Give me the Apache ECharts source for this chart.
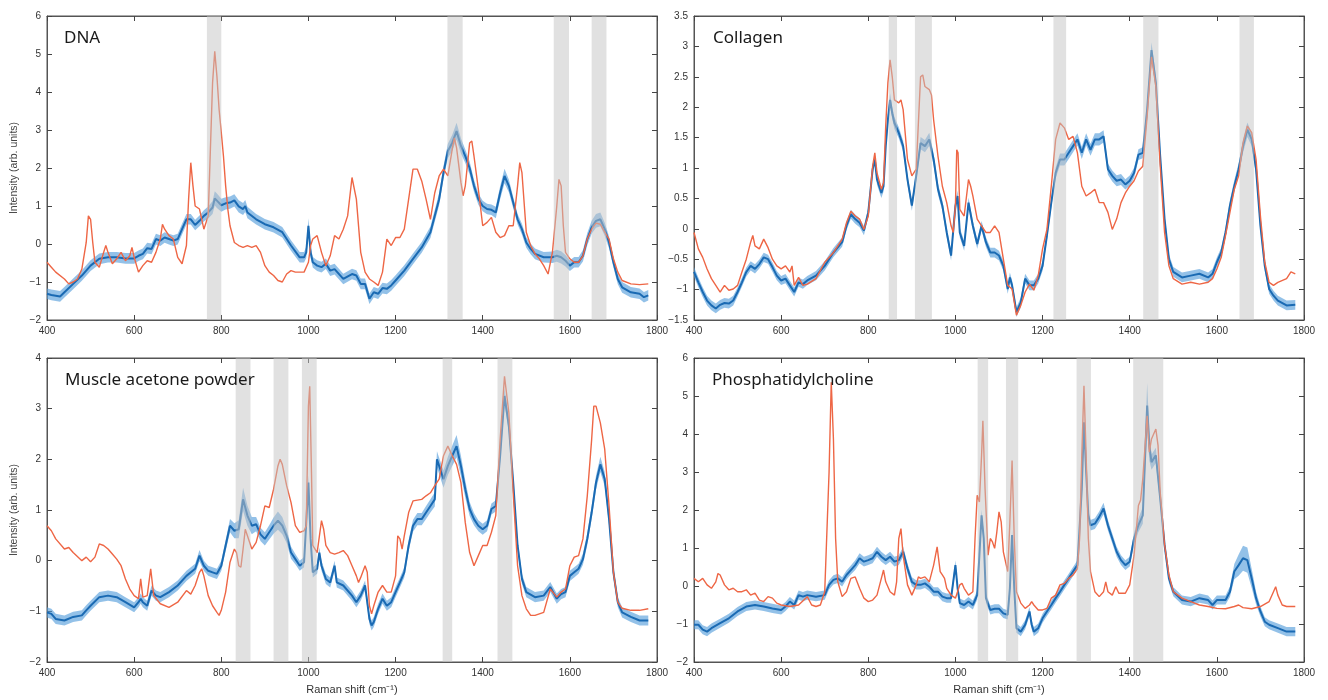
<!DOCTYPE html>
<html><head><meta charset="utf-8">
<script src="https://cdn.jsdelivr.net/npm/echarts@6/dist/echarts.min.js"></script>
<style>html,body{margin:0;padding:0;background:#fff}#c{width:1328px;height:700px}</style>
</head><body><div id="c"></div><script>
// ---------- DATA ----------
const xTicks = [400, 600, 800, 1000, 1200, 1400, 1600, 1800];
const panelTitles = ['DNA', 'Collagen', 'Muscle acetone powder', 'Phosphatidylcholine'];

// mean spectra: [Raman shift, mean intensity, standard deviation]
const dnaMean = [[400,-1.31,0.14],[410,-1.34,0.14],[430,-1.38,0.14],[440,-1.27,0.14],[460,-1.05,0.14],[480,-0.83,0.14],[500,-0.57,0.14],[520,-0.39,0.14],[540,-0.35,0.14],[560,-0.35,0.14],[580,-0.38,0.14],[600,-0.38,0.14],[610,-0.31,0.14],[620,-0.26,0.14],[630,-0.11,0.14],[640,-0.13,0.14],[650,0.13,0.14],[660,0.09,0.14],[670,0.17,0.14],[680,0.13,0.14],[690,0.09,0.14],[700,0.13,0.14],[710,0.39,0.14],[720,0.65,0.14],[730,0.65,0.14],[740,0.5,0.14],[750,0.61,0.14],[760,0.74,0.15],[770,0.83,0.16],[780,0.96,0.17],[785,1.2,0.19],[790,1.14,0.19],[800,1.02,0.17],[810,1.07,0.16],[820,1.09,0.16],[830,1.15,0.16],[840,0.99,0.16],[850,0.92,0.16],[855,1.0,0.16],[860,0.83,0.15],[880,0.65,0.14],[900,0.52,0.14],[920,0.44,0.14],[940,0.31,0.14],[960,-0.04,0.14],[980,-0.35,0.14],[990,-0.35,0.14],[995,-0.22,0.15],[1000,0.48,0.2],[1005,-0.22,0.15],[1010,-0.48,0.14],[1020,-0.57,0.14],[1030,-0.61,0.14],[1040,-0.52,0.14],[1050,-0.7,0.14],[1060,-0.66,0.14],[1080,-0.92,0.14],[1100,-0.79,0.14],[1110,-0.83,0.14],[1120,-1.05,0.14],[1130,-1.05,0.14],[1140,-1.44,0.14],[1150,-1.27,0.14],[1160,-1.31,0.14],[1170,-1.16,0.14],[1180,-1.18,0.14],[1190,-1.09,0.14],[1200,-0.96,0.14],[1220,-0.7,0.14],[1240,-0.39,0.14],[1260,-0.09,0.14],[1280,0.31,0.15],[1300,1.18,0.16],[1310,1.88,0.17],[1320,2.45,0.19],[1330,2.66,0.21],[1340,2.97,0.22],[1350,2.58,0.2],[1360,2.31,0.18],[1370,2.0,0.17],[1380,1.53,0.16],[1390,1.18,0.15],[1400,1.0,0.14],[1410,0.92,0.14],[1420,0.9,0.14],[1430,0.83,0.15],[1440,1.35,0.17],[1450,1.79,0.19],[1460,1.53,0.17],[1470,1.09,0.15],[1480,0.65,0.14],[1490,0.39,0.14],[1500,0.04,0.14],[1510,-0.13,0.14],[1520,-0.26,0.14],[1540,-0.35,0.14],[1560,-0.35,0.15],[1570,-0.31,0.16],[1580,-0.35,0.16],[1590,-0.44,0.15],[1600,-0.57,0.14],[1610,-0.48,0.14],[1620,-0.48,0.14],[1630,-0.31,0.15],[1640,0.13,0.16],[1650,0.44,0.17],[1660,0.61,0.18],[1670,0.65,0.18],[1680,0.39,0.17],[1690,0.04,0.16],[1700,-0.48,0.14],[1710,-0.92,0.14],[1720,-1.14,0.14],[1740,-1.27,0.14],[1760,-1.31,0.14],[1770,-1.4,0.14],[1780,-1.35,0.14]];
const dnaRef = [[400,-0.48],[410,-0.61],[420,-0.74],[440,-0.92],[450,-1.05],[460,-1.0],[470,-0.92],[480,-0.66],[490,0.04],[495,0.74],[500,0.65],[505,0.04],[510,-0.48],[520,-0.61],[530,-0.22],[535,-0.04],[540,-0.22],[550,-0.52],[560,-0.39],[570,-0.22],[580,-0.44],[590,-0.31],[595,-0.09],[600,-0.35],[610,-0.74],[620,-0.57],[630,-0.44],[640,-0.48],[650,-0.22],[660,0.13],[665,0.52],[670,0.39],[680,0.22],[690,0.13],[700,-0.35],[710,-0.52],[720,-0.04],[725,1.18],[730,2.14],[735,1.53],[740,1.0],[750,0.92],[760,0.39],[770,0.74],[775,2.49],[780,4.24],[785,5.07],[790,4.41],[795,3.54],[800,2.93],[805,2.31],[810,1.53],[815,0.92],[820,0.48],[830,0.04],[840,-0.04],[850,-0.09],[860,-0.04],[870,-0.09],[880,-0.04],[890,-0.22],[900,-0.57],[910,-0.74],[920,-0.83],[930,-0.96],[940,-1.0],[950,-0.79],[960,-0.7],[970,-0.74],[980,-0.74],[990,-0.74],[1000,-0.48],[1005,-0.04],[1010,0.13],[1020,0.22],[1030,-0.22],[1040,-0.57],[1050,-0.31],[1060,0.22],[1070,0.13],[1080,0.39],[1090,0.74],[1100,1.75],[1110,1.18],[1120,-0.22],[1130,-0.74],[1140,-0.92],[1150,-1.0],[1160,-1.09],[1170,-0.74],[1180,0.13],[1190,-0.04],[1200,0.17],[1210,0.17],[1220,0.39],[1230,1.18],[1240,1.97],[1250,1.97],[1260,1.66],[1270,1.18],[1280,0.65],[1290,1.35],[1300,1.79],[1310,1.97],[1320,1.79],[1330,2.49],[1335,2.79],[1340,2.53],[1350,1.62],[1355,1.27],[1360,1.53],[1370,2.66],[1375,2.71],[1380,2.31],[1390,1.44],[1400,0.48],[1410,0.57],[1420,0.7],[1430,0.31],[1440,0.17],[1450,0.22],[1460,0.48],[1470,0.48],[1480,1.53],[1485,2.14],[1490,1.88],[1500,0.31],[1510,-0.04],[1520,-0.26],[1530,-0.39],[1540,-0.57],[1550,-0.79],[1560,-0.22],[1570,1.0],[1575,1.7],[1580,1.53],[1585,0.48],[1590,-0.22],[1600,-0.39],[1610,-0.48],[1620,-0.48],[1630,-0.31],[1640,0.13],[1650,0.39],[1660,0.55],[1670,0.52],[1680,0.31],[1690,0.13],[1700,-0.39],[1710,-0.74],[1720,-0.96],[1740,-1.05],[1760,-1.07],[1780,-1.05]];
const dnaBands = [[767,800],[1319,1354],[1563,1598],[1650,1684]];

const collagenMean = [[400,-0.71,0.08],[410,-0.88,0.08],[420,-1.04,0.08],[430,-1.18,0.08],[440,-1.26,0.08],[450,-1.31,0.08],[460,-1.25,0.08],[470,-1.22,0.08],[480,-1.23,0.08],[490,-1.18,0.08],[500,-1.04,0.075],[510,-0.88,0.075],[520,-0.71,0.075],[530,-0.61,0.075],[540,-0.66,0.075],[550,-0.58,0.075],[560,-0.47,0.075],[570,-0.5,0.075],[580,-0.63,0.075],[590,-0.77,0.075],[600,-0.85,0.075],[610,-0.82,0.075],[620,-0.93,0.075],[630,-1.04,0.075],[640,-0.88,0.075],[650,-0.91,0.075],[660,-0.85,0.075],[680,-0.77,0.075],[700,-0.61,0.075],[720,-0.39,0.075],[740,-0.22,0.075],[750,0.05,0.075],[760,0.24,0.075],[770,0.16,0.075],[780,0.1,0.075],[790,-0.03,0.075],[800,0.27,0.08],[810,0.98,0.08],[815,1.14,0.085],[820,0.81,0.085],[830,0.59,0.085],[835,0.7,0.085],[840,1.36,0.09],[845,1.79,0.1],[850,2.12,0.11],[855,1.9,0.1],[860,1.74,0.1],[870,1.58,0.09],[880,1.36,0.09],[890,0.81,0.085],[900,0.38,0.085],[910,0.87,0.09],[920,1.41,0.1],[930,1.36,0.1],[940,1.47,0.11],[950,1.14,0.1],[960,0.65,0.09],[970,0.38,0.085],[980,-0.06,0.08],[990,-0.44,0.08],[1000,0.38,0.09],[1005,0.54,0.09],[1010,-0.06,0.08],[1020,-0.28,0.08],[1030,0.43,0.085],[1040,0.05,0.08],[1050,-0.25,0.08],[1060,0.05,0.08],[1070,-0.22,0.08],[1080,-0.39,0.08],[1090,-0.39,0.08],[1100,-0.44,0.08],[1110,-0.61,0.08],[1120,-0.99,0.08],[1125,-0.8,0.08],[1130,-0.93,0.08],[1140,-1.37,0.08],[1150,-1.21,0.08],[1160,-0.82,0.08],[1170,-0.93,0.08],[1180,-0.93,0.08],[1190,-0.82,0.08],[1200,-0.61,0.08],[1210,-0.11,0.08],[1220,0.43,0.085],[1230,0.92,0.09],[1240,1.14,0.1],[1250,1.14,0.1],[1260,1.25,0.1],[1270,1.36,0.1],[1280,1.47,0.1],[1290,1.25,0.1],[1300,1.47,0.1],[1310,1.3,0.1],[1320,1.47,0.1],[1330,1.47,0.1],[1340,1.52,0.1],[1350,0.98,0.09],[1360,0.87,0.09],[1370,0.79,0.09],[1380,0.81,0.09],[1390,0.73,0.085],[1400,0.79,0.085],[1410,0.92,0.085],[1420,1.22,0.09],[1430,1.25,0.09],[1440,1.96,0.1],[1450,2.94,0.13],[1460,2.4,0.11],[1470,1.19,0.09],[1480,0.16,0.08],[1490,-0.5,0.08],[1500,-0.71,0.08],[1520,-0.8,0.08],[1540,-0.77,0.08],[1560,-0.74,0.08],[1580,-0.8,0.08],[1590,-0.74,0.08],[1600,-0.55,0.08],[1610,-0.39,0.08],[1620,-0.06,0.085],[1630,0.38,0.09],[1640,0.7,0.1],[1650,0.98,0.1],[1660,1.36,0.11],[1670,1.63,0.12],[1680,1.47,0.11],[1690,0.98,0.1],[1700,0.05,0.09],[1710,-0.61,0.08],[1720,-0.99,0.08],[1730,-1.1,0.08],[1740,-1.18,0.08],[1760,-1.26,0.08],[1780,-1.25,0.08]];
const collagenRef = [[400,-0.06],[410,-0.33],[420,-0.47],[430,-0.66],[440,-0.82],[450,-0.93],[460,-1.04],[470,-0.93],[480,-1.01],[490,-0.99],[500,-0.93],[510,-0.71],[520,-0.5],[530,-0.22],[535,-0.11],[540,-0.28],[550,-0.33],[560,-0.17],[570,-0.31],[580,-0.5],[590,-0.61],[600,-0.66],[610,-0.61],[620,-0.71],[625,-0.61],[630,-0.93],[640,-0.8],[650,-0.93],[660,-0.91],[680,-0.82],[700,-0.55],[720,-0.39],[740,-0.17],[750,0.1],[760,0.29],[770,0.21],[780,0.16],[790,-0.01],[800,0.21],[810,1.03],[815,1.25],[820,0.92],[830,0.65],[835,0.76],[840,1.69],[845,2.4],[850,2.78],[855,2.5],[860,2.12],[870,2.07],[875,2.12],[880,1.96],[890,1.14],[900,0.87],[910,0.98],[920,2.5],[925,2.53],[930,2.34],[940,2.29],[945,2.2],[950,1.79],[960,1.19],[970,0.7],[980,0.43],[990,0.05],[995,-0.06],[1000,0.38],[1003,1.3],[1006,1.25],[1010,0.32],[1020,0.21],[1030,0.81],[1035,0.7],[1040,0.54],[1050,0.16],[1060,0.05],[1070,-0.06],[1080,-0.06],[1090,0.05],[1100,-0.06],[1110,-0.5],[1120,-0.93],[1130,-0.99],[1140,-1.42],[1150,-1.26],[1160,-1.04],[1170,-0.91],[1180,-1.01],[1190,-0.77],[1200,-0.33],[1210,-0.01],[1220,0.7],[1230,1.47],[1240,1.74],[1250,1.66],[1260,1.47],[1270,1.52],[1280,1.25],[1290,0.7],[1300,0.54],[1310,0.59],[1320,0.65],[1330,0.43],[1340,0.43],[1350,0.27],[1360,-0.01],[1370,0.16],[1380,0.43],[1390,0.59],[1400,0.7],[1410,0.79],[1420,0.95],[1430,1.03],[1440,1.85],[1450,2.83],[1460,2.34],[1470,1.03],[1480,-0.06],[1490,-0.61],[1500,-0.82],[1520,-0.91],[1540,-0.88],[1560,-0.91],[1580,-0.88],[1590,-0.82],[1600,-0.66],[1610,-0.47],[1620,-0.11],[1630,0.27],[1640,0.65],[1650,0.87],[1660,1.41],[1670,1.69],[1680,1.58],[1690,1.14],[1700,0.21],[1710,-0.55],[1720,-0.88],[1730,-0.93],[1740,-0.88],[1760,-0.82],[1770,-0.71],[1780,-0.74]];
const collagenBands = [[847,866],[907,946],[1225,1254],[1431,1466],[1652,1685]];

const muscleMean = [[400,-1.02,0.1],[410,-1.05,0.1],[420,-1.15,0.1],[440,-1.18,0.1],[460,-1.11,0.1],[480,-1.08,0.1],[490,-0.98,0.1],[500,-0.89,0.1],[520,-0.72,0.1],[540,-0.69,0.1],[560,-0.72,0.1],[580,-0.82,0.1],[600,-0.92,0.1],[610,-0.82,0.1],[615,-0.75,0.1],[620,-0.82,0.1],[630,-0.89,0.1],[640,-0.59,0.1],[650,-0.69,0.1],[660,-0.72,0.1],[680,-0.62,0.1],[700,-0.49,0.1],[720,-0.3,0.1],[740,-0.16,0.1],[750,0.1,0.11],[760,-0.1,0.1],[770,-0.2,0.1],[780,-0.23,0.1],[790,-0.26,0.1],[800,-0.1,0.1],[810,0.3,0.11],[820,0.69,0.13],[830,0.59,0.15],[840,0.62,0.18],[850,1.21,0.23],[860,0.89,0.2],[870,0.69,0.17],[880,0.72,0.14],[890,0.52,0.13],[900,0.43,0.13],[910,0.56,0.14],[920,0.69,0.16],[930,0.79,0.18],[940,0.69,0.17],[950,0.49,0.14],[960,0.16,0.12],[970,0.03,0.1],[980,-0.1,0.1],[990,-0.03,0.1],[1000,1.54,0.14],[1005,0.43,0.11],[1010,-0.23,0.1],[1020,-0.16,0.1],[1025,0.16,0.1],[1030,-0.1,0.1],[1040,-0.36,0.1],[1050,-0.43,0.1],[1060,-0.1,0.1],[1065,-0.43,0.1],[1080,-0.49,0.1],[1100,-0.69,0.1],[1110,-0.82,0.1],[1120,-0.69,0.1],[1130,-0.49,0.1],[1140,-1.15,0.1],[1145,-1.28,0.1],[1150,-1.21,0.1],[1160,-0.95,0.1],[1170,-0.75,0.1],[1180,-0.89,0.1],[1190,-0.82,0.1],[1200,-0.62,0.1],[1210,-0.43,0.1],[1220,-0.23,0.1],[1230,0.3,0.11],[1240,0.69,0.12],[1250,0.82,0.12],[1260,0.82,0.12],[1270,0.95,0.13],[1280,1.08,0.13],[1290,1.21,0.14],[1295,2.0,0.16],[1300,1.87,0.16],[1310,1.61,0.17],[1320,1.87,0.18],[1330,2.07,0.2],[1340,2.26,0.22],[1350,1.87,0.2],[1360,1.41,0.17],[1370,1.02,0.14],[1380,0.82,0.12],[1390,0.69,0.11],[1400,0.62,0.11],[1410,0.69,0.11],[1420,1.02,0.11],[1430,1.08,0.11],[1440,2.07,0.13],[1450,3.25,0.15],[1460,2.66,0.14],[1470,1.54,0.12],[1480,0.3,0.11],[1490,-0.36,0.1],[1500,-0.62,0.1],[1520,-0.72,0.1],[1540,-0.69,0.1],[1555,-0.52,0.1],[1570,-0.75,0.1],[1580,-0.66,0.1],[1590,-0.62,0.1],[1600,-0.3,0.1],[1610,-0.23,0.1],[1620,-0.16,0.1],[1630,0.03,0.11],[1640,0.43,0.12],[1650,0.95,0.13],[1660,1.54,0.14],[1670,1.9,0.15],[1680,1.61,0.14],[1690,0.82,0.13],[1700,-0.23,0.11],[1710,-0.82,0.1],[1720,-1.02,0.1],[1740,-1.11,0.1],[1760,-1.18,0.1],[1780,-1.18,0.1]];
const muscleRef = [[400,0.69],[410,0.59],[420,0.43],[440,0.23],[450,0.26],[460,0.16],[480,0.0],[490,0.07],[500,-0.02],[510,0.07],[520,0.33],[530,0.3],[540,0.23],[550,0.13],[560,0.03],[570,-0.1],[580,-0.36],[590,-0.56],[600,-0.69],[610,-0.75],[615,-0.36],[620,-0.72],[630,-0.69],[638,-0.16],[645,-0.69],[660,-0.85],[680,-0.92],[700,-0.82],[720,-0.59],[730,-0.66],[740,-0.49],[750,-0.23],[755,-0.16],[760,-0.3],[770,-0.69],[780,-0.89],[790,-1.02],[795,-1.08],[800,-0.98],[810,-0.62],[820,-0.03],[830,0.23],[835,0.16],[840,-0.1],[845,-0.13],[850,0.23],[855,0.62],[860,0.49],[870,0.23],[880,0.36],[890,0.69],[900,1.08],[910,1.05],[920,1.41],[930,1.87],[935,2.0],[940,1.9],[950,1.48],[960,1.15],[970,0.69],[980,0.56],[990,0.59],[995,0.69],[1000,3.05],[1003,3.44],[1007,1.74],[1010,0.3],[1020,0.16],[1030,0.79],[1035,0.62],[1040,0.3],[1050,0.16],[1060,0.13],[1070,0.16],[1080,0.2],[1090,0.1],[1100,-0.1],[1110,-0.3],[1115,-0.43],[1120,-0.33],[1130,-0.1],[1135,-0.23],[1140,-0.89],[1145,-1.05],[1150,-0.89],[1160,-0.62],[1170,-0.49],[1180,-0.62],[1190,-0.62],[1200,-0.3],[1205,0.49],[1210,0.43],[1215,0.23],[1220,0.49],[1230,0.95],[1240,1.18],[1260,1.21],[1270,1.28],[1280,1.34],[1290,1.48],[1300,1.61],[1310,2.07],[1320,2.26],[1330,2.07],[1340,1.9],[1350,1.54],[1360,0.75],[1370,0.16],[1380,-0.1],[1390,0.1],[1400,0.3],[1410,0.3],[1420,0.56],[1430,0.89],[1440,2.39],[1450,3.64],[1460,2.92],[1470,1.34],[1480,-0.1],[1490,-0.69],[1500,-0.95],[1510,-1.08],[1520,-1.08],[1540,-1.02],[1555,-0.56],[1570,-0.72],[1580,-0.62],[1590,-0.56],[1600,-0.1],[1610,0.07],[1620,0.1],[1630,0.43],[1640,1.28],[1650,2.39],[1655,3.05],[1660,3.05],[1670,2.72],[1680,2.2],[1690,1.08],[1700,-0.23],[1710,-0.82],[1720,-0.94],[1740,-0.98],[1760,-0.98],[1780,-0.95]];
const muscleBands = [[833,867],[920,954],[985,1019],[1308,1330],[1434,1468]];

const pcMean = [[400,-1.02,0.12],[410,-1.02,0.12],[420,-1.15,0.12],[430,-1.2,0.12],[440,-1.11,0.12],[460,-0.98,0.12],[480,-0.85,0.12],[500,-0.67,0.12],[520,-0.54,0.12],[540,-0.5,0.12],[560,-0.54,0.12],[580,-0.59,0.12],[600,-0.63,0.12],[610,-0.54,0.12],[620,-0.41,0.12],[630,-0.5,0.12],[640,-0.24,0.12],[650,-0.28,0.12],[660,-0.24,0.12],[680,-0.28,0.12],[700,-0.24,0.12],[710,0.03,0.12],[720,0.16,0.12],[730,0.2,0.12],[740,0.11,0.12],[750,0.29,0.12],[760,0.42,0.12],[770,0.55,0.13],[780,0.73,0.13],[790,0.64,0.13],[800,0.68,0.13],[810,0.73,0.13],[820,0.9,0.13],[830,0.77,0.13],[840,0.68,0.13],[850,0.77,0.13],[860,0.64,0.13],[870,0.68,0.13],[880,0.9,0.13],[890,0.46,0.13],[900,0.11,0.12],[910,0.03,0.12],[920,0.03,0.12],[930,0.07,0.12],[940,-0.02,0.12],[950,-0.15,0.12],[960,-0.15,0.12],[970,-0.28,0.12],[980,-0.32,0.12],[990,-0.32,0.12],[1000,0.55,0.13],[1005,-0.06,0.12],[1010,-0.45,0.12],[1020,-0.5,0.12],[1030,-0.41,0.12],[1040,-0.5,0.12],[1050,-0.24,0.12],[1055,0.81,0.13],[1060,1.86,0.15],[1065,1.25,0.13],[1070,-0.32,0.12],[1080,-0.63,0.12],[1090,-0.6,0.12],[1100,-0.6,0.12],[1110,-0.72,0.12],[1120,-0.76,0.12],[1125,-0.06,0.13],[1130,1.34,0.15],[1135,-0.06,0.13],[1140,-1.11,0.12],[1150,-1.2,0.12],[1160,-1.02,0.12],[1170,-0.67,0.12],[1175,-1.02,0.12],[1180,-1.2,0.12],[1190,-1.11,0.12],[1200,-0.85,0.12],[1210,-0.67,0.12],[1220,-0.5,0.12],[1230,-0.32,0.12],[1240,-0.15,0.12],[1250,0.03,0.12],[1260,0.2,0.12],[1270,0.38,0.12],[1280,0.55,0.13],[1290,2.56,0.15],[1295,4.31,0.18],[1300,3.0,0.16],[1305,1.86,0.14],[1310,1.6,0.14],[1320,1.64,0.14],[1330,1.82,0.14],[1340,2.04,0.15],[1350,1.6,0.14],[1360,1.25,0.13],[1370,0.9,0.13],[1380,0.68,0.13],[1390,0.55,0.13],[1400,0.64,0.13],[1410,1.25,0.15],[1420,1.6,0.18],[1430,1.86,0.22],[1440,4.75,0.6],[1445,3.7,0.4],[1450,3.26,0.2],[1460,3.44,0.2],[1470,2.3,0.16],[1480,1.08,0.13],[1490,0.2,0.12],[1500,-0.15,0.12],[1520,-0.37,0.12],[1540,-0.41,0.12],[1560,-0.32,0.12],[1580,-0.37,0.12],[1590,-0.5,0.12],[1600,-0.37,0.12],[1620,-0.37,0.12],[1630,-0.15,0.14],[1640,0.38,0.2],[1650,0.55,0.28],[1660,0.73,0.33],[1670,0.68,0.33],[1680,0.2,0.25],[1690,-0.32,0.17],[1700,-0.67,0.13],[1710,-0.94,0.12],[1720,-1.02,0.12],[1740,-1.11,0.12],[1760,-1.2,0.12],[1780,-1.2,0.12]];
const pcRef = [[400,0.2],[410,0.11],[420,0.2],[430,0.03],[440,-0.06],[450,0.11],[455,0.33],[460,0.29],[470,0.03],[480,-0.1],[490,-0.06],[500,-0.15],[510,-0.15],[520,-0.1],[530,-0.24],[540,-0.19],[550,-0.37],[560,-0.41],[570,-0.28],[580,-0.32],[590,-0.45],[600,-0.5],[620,-0.54],[640,-0.5],[660,-0.28],[670,-0.5],[680,-0.54],[690,-0.5],[700,-0.15],[710,3.0],[715,5.36],[720,3.87],[725,1.25],[730,0.11],[740,-0.28],[750,-0.15],[760,0.2],[770,0.24],[780,-0.06],[790,-0.32],[800,-0.41],[810,-0.37],[820,-0.24],[830,0.2],[835,0.42],[840,0.11],[850,-0.15],[860,-0.24],[865,0.11],[870,1.25],[875,1.51],[880,0.81],[890,0.03],[900,-0.24],[910,0.03],[915,0.24],[920,0.2],[930,0.24],[940,0.11],[950,0.55],[958,1.03],[965,0.38],[970,0.29],[975,0.2],[980,-0.06],[990,-0.24],[1000,-0.32],[1010,0.03],[1015,0.07],[1020,-0.06],[1030,-0.24],[1040,-0.15],[1045,1.25],[1050,2.39],[1055,2.21],[1060,3.44],[1063,4.35],[1068,2.56],[1075,0.81],[1080,1.25],[1085,1.16],[1090,0.99],[1095,1.42],[1100,1.95],[1105,1.69],[1110,0.9],[1120,0.38],[1125,1.69],[1130,3.3],[1135,1.25],[1140,-0.15],[1150,-0.45],[1160,-0.59],[1170,-0.5],[1175,-0.41],[1180,-0.5],[1190,-0.63],[1200,-0.63],[1210,-0.59],[1220,-0.32],[1230,-0.24],[1240,0.03],[1250,0.07],[1260,0.2],[1270,0.29],[1280,0.46],[1285,1.25],[1290,3.44],[1295,5.27],[1300,3.44],[1305,1.25],[1310,0.38],[1320,-0.15],[1330,-0.28],[1340,-0.15],[1345,0.11],[1350,-0.15],[1360,-0.24],[1368,-0.02],[1375,-0.19],[1390,-0.19],[1400,0.03],[1410,0.81],[1420,2.12],[1425,2.26],[1430,2.82],[1440,4.48],[1445,3.52],[1450,3.87],[1460,4.13],[1465,3.7],[1470,2.47],[1480,1.08],[1490,0.29],[1500,-0.15],[1520,-0.32],[1540,-0.41],[1560,-0.5],[1580,-0.54],[1600,-0.59],[1620,-0.6],[1640,-0.54],[1650,-0.5],[1660,-0.57],[1680,-0.6],[1700,-0.54],[1720,-0.41],[1730,-0.15],[1735,-0.02],[1740,-0.24],[1750,-0.5],[1760,-0.54],[1780,-0.54]];
const pcBands = [[1051,1075],[1116,1144],[1278,1311],[1408,1477]];

const yRanges = [[-2, 6, 1], [-1.5, 3.5, 0.5], [-2, 4, 1], [-2, 6, 1]];

// ---------- LAYOUT / STYLE ----------
const panels = [
  { mean: dnaMean, ref: dnaRef, bands: dnaBands, grid: { left: 47, top: 16, width: 610, height: 304 }, yName: true, xName: false, tpos: [64, 30] },
  { mean: collagenMean, ref: collagenRef, bands: collagenBands, grid: { left: 694, top: 16, width: 610, height: 304 }, yName: false, xName: false, tpos: [713, 30] },
  { mean: muscleMean, ref: muscleRef, bands: muscleBands, grid: { left: 47, top: 358, width: 610, height: 304 }, yName: true, xName: true, tpos: [65, 372] },
  { mean: pcMean, ref: pcRef, bands: pcBands, grid: { left: 694, top: 358, width: 610, height: 304 }, yName: false, xName: true, tpos: [712, 372] }
];
const BLUE = '#1a6ab3', BAND = 'rgba(80,155,218,0.62)', ORANGE = '#ee6645', SHADE = 'rgba(196,196,196,0.5)';
const labelFont = { fontFamily: 'Liberation Sans, Arial, sans-serif', fontSize: 10, color: '#333' };
const fmt = v => String(v).replace('-', '\u2212');
const tickStyle = { show: true, inside: true, length: 5, lineStyle: { color: '#444' } };
const lineAx = { show: true, onZero: false, lineStyle: { color: '#555' } };

const option = { animation: false, backgroundColor: '#fff', grid: [], xAxis: [], yAxis: [], series: [], title: [] };

panels.forEach((p, i) => {
  option.grid.push(Object.assign({ show: true, borderColor: '#555', borderWidth: 1, containLabel: false }, p.grid));
  const [ymin, ymax, yint] = yRanges[i];
  option.title.push({ text: panelTitles[i], left: p.tpos[0], top: p.tpos[1], padding: 0,
    textStyle: { fontFamily: 'Noto Sans', fontSize: 17, fontWeight: 'normal', color: '#1a1a1a' } });
  option.xAxis.push({ type: 'value', gridIndex: i, min: xTicks[0], max: xTicks[xTicks.length - 1], interval: 200,
    axisLine: lineAx, axisTick: tickStyle,
    axisLabel: Object.assign({ margin: 6, formatter: fmt }, labelFont),
    splitLine: { show: false },
    name: p.xName ? 'Raman shift (cm\u207B\u00B9)' : '', nameLocation: 'middle', nameGap: 22,
    nameTextStyle: { fontFamily: 'Liberation Sans, Arial, sans-serif', fontSize: 11, color: '#333' } });
  option.yAxis.push({ type: 'value', gridIndex: i, min: ymin, max: ymax, interval: yint,
    axisLine: lineAx, axisTick: tickStyle,
    axisLabel: Object.assign({ margin: 6, formatter: fmt }, labelFont),
    splitLine: { show: false },
    name: p.yName ? 'Intensity (arb. units)' : '', nameLocation: 'middle', nameGap: 27,
    nameTextStyle: { fontFamily: 'Liberation Sans, Arial, sans-serif', fontSize: 10.5, color: '#444' } });
});
// mirrored top/right axes carrying tick marks only
panels.forEach((p, i) => {
  const [ymin, ymax, yint] = yRanges[i];
  option.xAxis.push({ type: 'value', gridIndex: i, position: 'top', min: xTicks[0], max: xTicks[xTicks.length - 1], interval: 200,
    axisLine: lineAx, axisTick: tickStyle, axisLabel: { show: false }, splitLine: { show: false } });
  option.yAxis.push({ type: 'value', gridIndex: i, position: 'right', min: ymin, max: ymax, interval: yint,
    axisLine: lineAx, axisTick: tickStyle, axisLabel: { show: false }, splitLine: { show: false } });
});

function bandRender(params, api) {
  if (params.dataIndexInside !== 0) return null;
  const n = params.dataInsideLength;
  const up = [], lo = [];
  for (let k = 0; k < n; k++) {
    const x = api.value(0, k);
    up.push(api.coord([x, api.value(2, k)]));
    lo.push(api.coord([x, api.value(1, k)]));
  }
  return { type: 'polygon', shape: { points: up.concat(lo.reverse()) }, style: { fill: BAND } };
}
function shadeRender(params, api) {
  const cs = params.coordSys;
  const a = api.coord([api.value(0), 0])[0];
  const b = api.coord([api.value(1), 0])[0];
  return { type: 'rect', shape: { x: a, y: cs.y, width: b - a, height: cs.height }, style: { fill: SHADE } };
}

panels.forEach((p, i) => {
  option.series.push({ type: 'custom', xAxisIndex: i, yAxisIndex: i, z: 1, silent: true,
    data: p.mean.map(d => [d[0], d[1] - d[2], d[1] + d[2]]), encode: { x: 0, y: [1, 2] }, renderItem: bandRender });
  option.series.push({ type: 'line', xAxisIndex: i, yAxisIndex: i, z: 2, symbol: 'none', silent: true,
    data: p.mean.map(d => [d[0], d[1]]), lineStyle: { color: BLUE, width: 2 } });
  option.series.push({ type: 'line', xAxisIndex: i, yAxisIndex: i, z: 3, symbol: 'none', silent: true,
    data: p.ref, lineStyle: { color: ORANGE, width: 1.4 } });
  option.series.push({ type: 'custom', xAxisIndex: i, yAxisIndex: i, z: 4, silent: true,
    data: p.bands.map(b => [b[0], b[1], 0]), encode: { x: [0, 1], y: 2 }, renderItem: shadeRender });
});

const chart = echarts.init(document.getElementById('c'), null, { renderer: 'canvas' });
chart.setOption(option);
</script></body></html>
